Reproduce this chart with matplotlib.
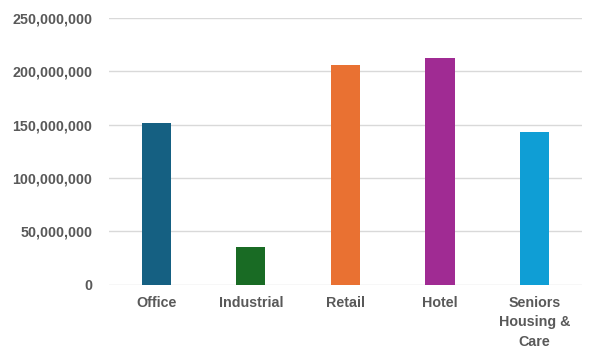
import matplotlib.pyplot as plt
from matplotlib.ticker import FuncFormatter

# Data
categories = ['Office', 'Industrial', 'Retail', 'Hotel', 'Seniors\nHousing &\nCare']
values = [151_400_000, 35_100_000, 206_400_000, 212_900_000, 143_200_000]
colors = ['#156082', '#196B24', '#E97132', '#A02B93', '#0F9ED5']
yticks = [0, 50_000_000, 100_000_000, 150_000_000, 200_000_000, 250_000_000]

plt.rcParams['font.family'] = ['Liberation Sans', 'DejaVu Sans']

fig = plt.figure(figsize=(6, 3.6), dpi=100)
ax = fig.add_axes([0.1817, 0.2092, 0.7878, 0.7408])

ax.bar(range(len(categories)), values, width=0.31, color=colors, zorder=3)

ax.set_xlim(-0.5, len(categories) - 0.5)
ax.set_ylim(0, 250_000_000)
ax.set_yticks(yticks)
ax.yaxis.set_major_formatter(FuncFormatter(lambda v, p: f'{int(v):,}'))
ax.set_xticks(range(len(categories)))
ax.set_xticklabels(categories, linespacing=1.5)

ax.grid(axis='y', color='#D9D9D9', linewidth=1, zorder=0)
for s in ax.spines.values():
    s.set_visible(False)
ax.tick_params(axis='both', length=0, labelsize=10.3, labelcolor='#595959')
ax.tick_params(axis='y', pad=12)
ax.tick_params(axis='x', pad=8)
for lab in ax.get_xticklabels() + ax.get_yticklabels():
    lab.set_fontweight('bold')

fig.savefig('out.png', dpi=100)
